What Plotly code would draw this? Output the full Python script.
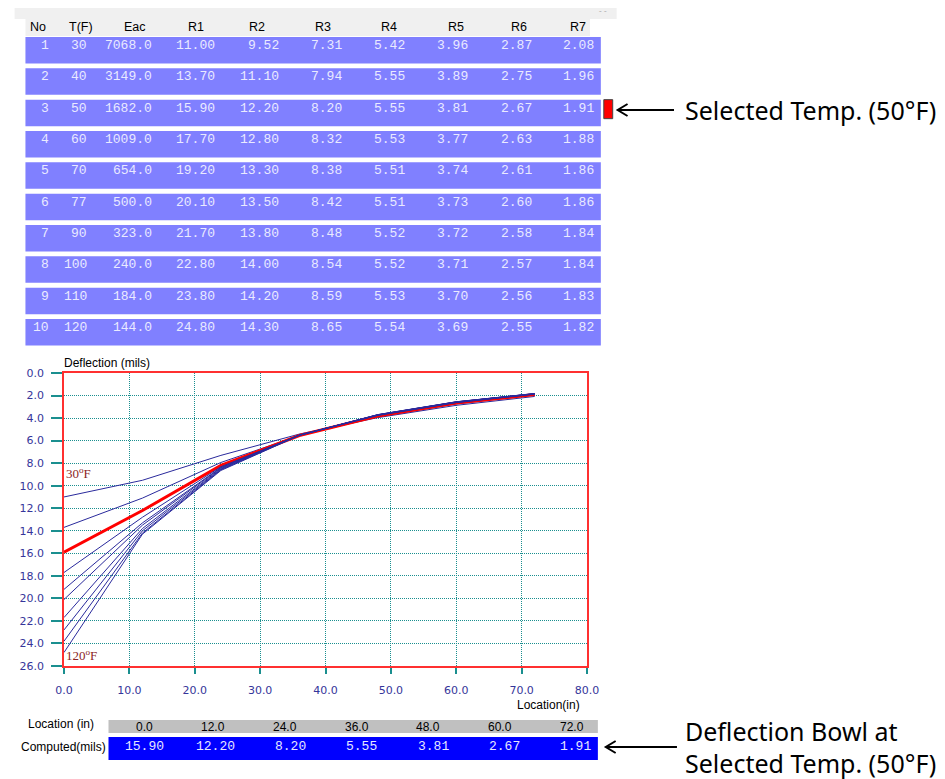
import plotly.graph_objects as go

# ---------------- data ----------------
row_no = [1, 2, 3, 4, 5, 6, 7, 8, 9, 10]
temps_f = [30, 40, 50, 60, 70, 77, 90, 100, 110, 120]
eac = [7068.0, 3149.0, 1682.0, 1009.0, 654.0, 500.0, 323.0, 240.0, 184.0, 144.0]
r1 = [11.00, 13.70, 15.90, 17.70, 19.20, 20.10, 21.70, 22.80, 23.80, 24.80]
r2 = [9.52, 11.10, 12.20, 12.80, 13.30, 13.50, 13.80, 14.00, 14.20, 14.30]
r3 = [7.31, 7.94, 8.20, 8.32, 8.38, 8.42, 8.48, 8.54, 8.59, 8.65]
r4 = [5.42, 5.55, 5.55, 5.53, 5.51, 5.51, 5.52, 5.52, 5.53, 5.54]
r5 = [3.96, 3.89, 3.81, 3.77, 3.74, 3.73, 3.72, 3.71, 3.70, 3.69]
r6 = [2.87, 2.75, 2.67, 2.63, 2.61, 2.60, 2.58, 2.57, 2.56, 2.55]
r7 = [2.08, 1.96, 1.91, 1.88, 1.86, 1.86, 1.84, 1.84, 1.83, 1.82]
locations = [0.0, 12.0, 24.0, 36.0, 48.0, 60.0, 72.0]
column_labels = ["No", "T(F)", "Eac", "R1", "R2", "R3", "R4", "R5", "R6", "R7"]
x_ticks = [0, 10, 20, 30, 40, 50, 60, 70, 80]
y_ticks = [0, 2, 4, 6, 8, 10, 12, 14, 16, 18, 20, 22, 24, 26]
selected_index = 2

# ---------------- layout helpers (target pixel -> paper) ----------------
OFF = 8  # page body margin
FW, FH = 945 - OFF, 779 - OFF
PL, PR, PT, PB = 58, 587, 373, 666  # plot area in target pixels
def px(x):
    return (x - PL) / (PR - PL)
def py(y):
    return (PB - y) / (PB - PT)

r_cols = [r1, r2, r3, r4, r5, r6, r7]

fig = go.Figure()

for i, t in enumerate(temps_f):
    yv = [col[i] for col in r_cols]
    sel = i == selected_index
    fig.add_trace(go.Scatter(
        x=locations, y=yv, mode="lines",
        line=dict(color="#ff0000" if sel else "#2a2a9c", width=3 if sel else 1),
        name=f"{t}F", showlegend=False, hoverinfo="skip"))

shapes = []
annotations = []

def text(x, y, s, size, color="#000000", family="Liberation Sans", anchor="center"):
    annotations.append(dict(xref="paper", yref="paper", x=px(x), y=py(y), text=s, showarrow=False,
                            xanchor=anchor, yanchor="middle", borderpad=0, borderwidth=0,
                            font=dict(family=family, size=size, color=color)))

def rect(x0, x1, y0, y1, fill, line=None):
    shapes.append(dict(type="rect", xref="paper", yref="paper", x0=px(x0), x1=px(x1),
                       y0=py(y1), y1=py(y0), fillcolor=fill,
                       line=line if line else dict(width=0), layer="below" if not line else "above"))

# ---- top table ----
rect(8, 617, 8, 19, "#f0f0f0")
rect(19, 590, 19, 36, "#f0f0f0")
text(603, 13, "ˆ ˇ", 8, "#aaaaaa")
header_centers = [32, 75, 130, 192, 253, 320, 387, 454, 518, 578]
for lab, cx in zip(column_labels, header_centers):
    text(cx, 27, lab, 12.5)

right_edges = [43, 81, 147, 211, 275, 339, 403, 467, 531, 594]
row_step = 31.33
for i in range(len(row_no)):
    top = 37 + i * row_step
    rect(19, 601, top, top + 26.5, "#8080ff")
    vals = [str(row_no[i]), str(temps_f[i]), f"{eac[i]:.1f}"] + [f"{c[i]:.2f}" for c in r_cols]
    for v, rx in zip(vals, right_edges):
        text(rx, top + 8.5, v, 13, "#eaeaff", "Liberation Mono", "right")

# selected marker + arrow
sel_top = 37 + selected_index * row_step
rect(604, 613, sel_top, sel_top + 19, "#ff0000", dict(color="#444444", width=1))
ay1 = 110
shapes.append(dict(type="path", xref="paper", yref="paper",
                   path=f"M {px(675)},{py(ay1)} L {px(618)},{py(ay1)} M {px(628)},{py(ay1-6)} L {px(618)},{py(ay1)} L {px(628)},{py(ay1+6)}",
                   line=dict(color="#000000", width=2)))
text(686, ay1, f"Selected Temp. ({temps_f[selected_index]}°F)", 25, family="Noto Sans", anchor="left")

# ---- bottom table ----
rect(103, 598, 720, 733, "#c0c0c0")
rect(103, 598, 737, 760, "#0000ff")
text(55, 724, "Location (in)", 12)
text(57, 747, "Computed(mils)", 12)
computed = [c[selected_index] for c in r_cols]
for k, (loc, val) in enumerate(zip(locations, computed)):
    text(148 + k * 72.7, 727, f"{loc:.1f}", 12, anchor="right")
    text(159 + k * 72, 746, f"{val:.2f}", 13, "#e6e6ff", "Liberation Mono", "right")
ay2 = 747
shapes.append(dict(type="path", xref="paper", yref="paper",
                   path=f"M {px(678)},{py(ay2)} L {px(606)},{py(ay2)} M {px(616)},{py(ay2-6)} L {px(606)},{py(ay2)} L {px(616)},{py(ay2+6)}",
                   line=dict(color="#000000", width=2)))
text(686, 731, "Deflection Bowl at", 25, family="Noto Sans", anchor="left")
text(686, 763, f"Selected Temp. ({temps_f[selected_index]}°F)", 25, family="Noto Sans", anchor="left")

# ---- chart labels ----
text(58, 363, "Deflection (mils)", 12, anchor="left")
text(548, 705, "Location(in)", 12)
for t_lab, yy in ((temps_f[0], 8.9), (temps_f[-1], 25.0)):
    annotations.append(dict(xref="x", yref="y", x=0.2, y=yy, text=f"{t_lab}<sup>o</sup>F",
                            showarrow=False, xanchor="left", yanchor="middle", borderpad=0,
                            font=dict(family="Liberation Serif", size=13, color="#8b2525")))

axis_common = dict(tickformat=".1f", showgrid=True, gridcolor="#1a8f8f", griddash="1px,1px",
                   gridwidth=1, zeroline=False, showline=True, linecolor="#ff3030", linewidth=1.5,
                   mirror=True, ticks="outside", tickcolor="#1a8f8f", tickwidth=1.5,
                   tickfont=dict(family="DejaVu Sans", size=11, color="#35359a"))

fig.update_layout(
    width=FW, height=FH,
    margin=dict(l=PL - OFF, r=FW - (PR - OFF), t=PT - OFF, b=FH - (PB - OFF), pad=0),
    paper_bgcolor="#ffffff", plot_bgcolor="#ffffff",
    shapes=shapes, annotations=annotations,
    xaxis=dict(range=[0, 80], tickvals=x_ticks, ticklen=6, ticklabelstandoff=7, **axis_common),
    yaxis=dict(range=[26, 0], tickvals=y_ticks, ticklen=11, ticklabelstandoff=5, **axis_common),
)

fig.write_html("out.html")
